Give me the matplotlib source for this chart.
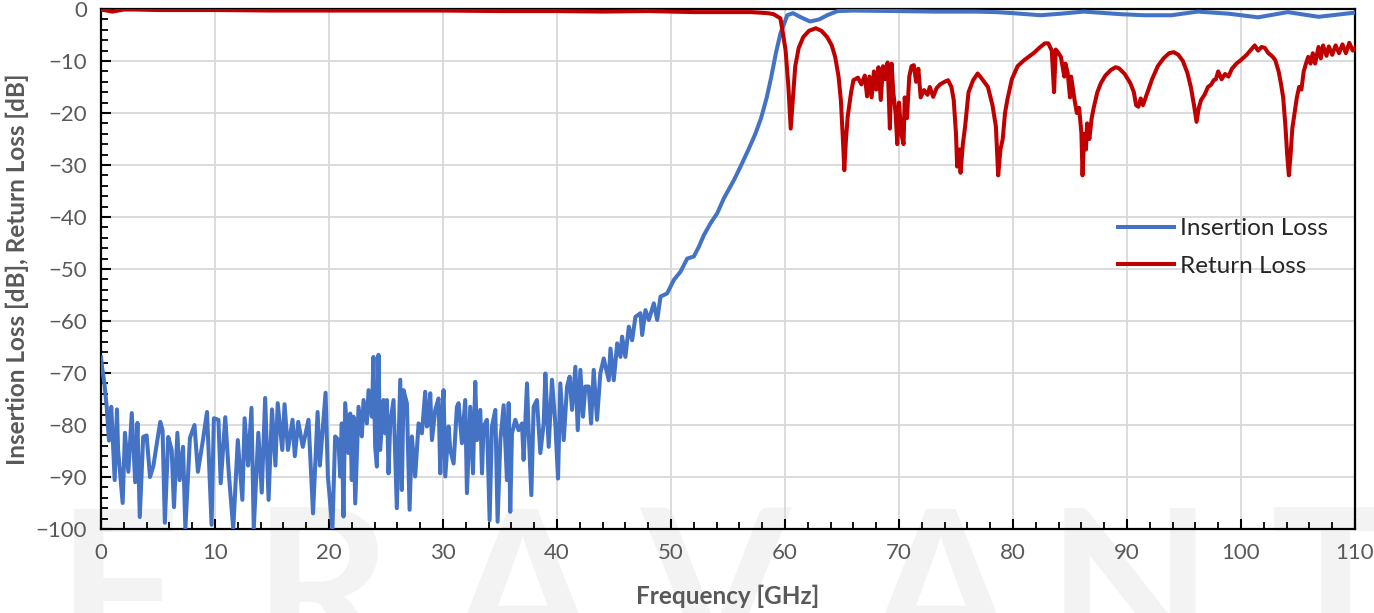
import matplotlib
matplotlib.use("Agg")
import matplotlib.pyplot as plt
from matplotlib.ticker import MultipleLocator

# ---------------- data ----------------
il_freq = [0.0, 0.1, 0.3, 0.5, 0.7, 0.9, 1.2, 1.4, 1.5, 1.9, 2.1, 2.4, 2.7, 3.0, 3.2, 3.4, 3.7, 4.0, 4.3, 4.6,
           4.9, 5.2, 5.4, 5.6, 5.9, 6.2, 6.4, 6.7, 6.9, 7.2, 7.4, 7.8, 8.2, 8.5, 8.9, 9.3, 9.7, 9.9, 10.3, 10.5,
           10.9, 11.2, 11.6, 12.0, 12.4, 12.6, 12.9, 13.2, 13.4, 13.8, 14.1, 14.4, 14.7, 15.0, 15.3, 15.5, 15.9,
           16.1, 16.4, 16.8, 17.0, 17.3, 17.7, 18.2, 18.6, 19.0, 19.2, 19.7, 19.9, 20.3,
           20.54, 20.83, 20.98, 21.12, 21.27, 21.42, 21.71, 21.86, 22.0, 22.15, 22.3, 22.59, 22.88, 23.03, 23.32,
           23.47, 23.76, 23.9, 24.05, 24.2, 24.34, 24.49, 24.78, 24.93, 25.08, 25.22, 25.37, 25.66, 25.95, 26.25,
           26.39, 26.54, 26.83, 27.07, 27.27, 27.56, 27.86, 28.15, 28.44, 28.59, 28.73, 28.88, 29.03, 29.32, 29.61,
           29.76, 29.9, 30.05, 30.2, 30.49, 30.64, 30.93, 31.22, 31.37, 31.66, 31.95, 32.1, 32.39, 32.63, 32.83,
           32.98, 33.27, 33.42, 33.56, 33.85, 34.09, 34.29, 34.59, 34.79, 35.03, 35.32, 35.61, 35.76, 35.9, 36.05,
           36.34, 36.63, 36.93, 37.07, 37.37, 37.51, 37.75, 37.95, 38.24, 38.54, 38.83, 38.98, 39.27, 39.56, 39.85,
           40.09, 40.29, 40.59, 40.88, 41.11, 41.32, 41.61, 41.82, 42.05, 42.28, 42.49, 42.78, 42.99, 43.22, 43.51,
           43.8, 44.1, 44.54, 44.69, 44.98, 45.28, 45.57, 45.71, 46.0, 46.3, 46.59, 46.88, 47.32, 47.47, 47.76,
           48.06, 48.49, 48.79, 49.08, 49.66, 50.25, 50.84, 51.42, 52.0, 52.45, 52.88, 53.47, 54.05, 54.64, 55.52,
           56.1, 56.8, 57.4, 57.9, 58.4, 58.8, 59.2, 59.6, 60.2, 60.7, 61.4, 62.2, 63.0, 63.7, 64.6, 66.0, 70.0,
           73.0, 76.6, 78.5, 80.0, 82.4, 84.2, 86.2, 89.5, 91.5, 93.9, 96.2, 98.9, 101.5, 104.1, 106.8, 110.0]
il_db = [-67, -69, -72, -76.5, -83, -76.5, -90.6, -77, -84.8, -95, -81.5, -89, -77.7, -91, -79.6, -97.7, -82.3, -82,
         -90, -87.8, -83.5, -79.4, -81, -98.8, -82.3, -84.8, -95.8, -81.5, -90.6, -84.2, -100, -82.5, -80, -89,
         -83.5, -77.5, -99.2, -78.7, -79, -91.2, -78.5, -89, -100, -82.9, -94.4, -78.7, -87.8, -76.7, -100, -81.5,
         -93, -74.8, -94.4, -77, -87.8, -75.8, -84.8, -76, -84.8, -79, -86, -79.4, -84.2, -79, -97, -77.5, -87.8,
         -73.8, -89.8, -100,
         -82.2, -82.9, -89.9, -79.7, -97.6, -75.8, -85.4, -77.8, -90.6, -78.4, -95.1, -76.5, -82.2, -75.2, -79.7,
         -73.3, -78.4, -66.9, -84.2, -88.0, -66.5, -84.8, -75.2, -81.6, -75.2, -89.3, -79.7, -75.2, -96.0, -71.3,
         -92.5, -73.3, -75.8, -96.3, -82.2, -89.9, -79.7, -81.6, -73.6, -80.3, -79.7, -73.9, -82.9, -77.1, -74.9,
         -89.3, -79.7, -73.3, -89.9, -80.3, -84.8, -87.4, -76.5, -75.8, -83.5, -75.2, -93.1, -76.5, -89.3, -71.7,
         -82.9, -77.1, -89.3, -80.3, -79.0, -98.3, -80.3, -77.1, -98.6, -82.9, -76.2, -90.6, -75.8, -96.7, -81.6,
         -79.0, -81.0, -79.7, -86.7, -72.0, -81.0, -93.5, -76.5, -75.2, -85.4, -79.7, -70.1, -84.2, -71.3, -79.7,
         -90.3, -72.0, -82.9, -72.6, -70.7, -77.1, -68.8, -81.0, -69.4, -78.4, -72.6, -72.6, -79.7, -69.4, -79.0,
         -70.1, -67.2, -71.4, -65.3, -71.4, -64.3, -66.9, -63.0, -66.9, -61.1, -63.7, -59.2, -58.5, -62.7, -57.9,
         -59.8, -56.6, -59.8, -55.3, -54.7, -52.1, -50.5, -48.0, -47.6, -45.7, -43.5, -41.2, -39.3, -36.4, -32.9,
         -30.3, -27.0, -24.0, -21.0, -17.0, -13.0, -8.5, -4.7, -1.2, -0.8, -1.6, -2.4, -2.0, -1.2, -0.4, -0.3, -0.4,
         -0.5, -0.5, -0.6, -0.8, -1.2, -0.9, -0.5, -1.0, -1.2, -1.2, -0.5, -0.9, -1.6, -0.6, -1.5, -0.7]

rl_freq = [0.0, 0.5, 1.0, 1.5, 2.0, 3.0, 5.0, 10.0, 15.0, 20.0, 25.0, 30.0, 35.0, 40.0, 44.0, 48.0, 52.0, 55.0,
           57.0, 58.5, 59.0, 59.6, 60.05, 60.3, 60.5, 60.7, 60.9, 61.2, 61.6, 62.1, 62.7, 63.2, 63.7, 64.1, 64.4,
           64.7, 64.9, 65.1, 65.2, 65.35, 65.5, 65.8, 66.0, 66.4, 66.7, 67.0, 67.2, 67.4, 67.6, 67.8, 68.0, 68.2,
           68.4, 68.6, 68.8, 69.0, 69.2, 69.35, 69.5, 69.7, 69.85, 70.0, 70.2, 70.4, 70.5, 70.7, 70.9, 71.1, 71.3,
           71.5, 71.7, 71.9, 72.2, 72.5, 72.7, 73.0, 73.3, 73.6, 74.0, 74.3, 74.6, 74.8, 75.0, 75.1, 75.3, 75.4,
           75.6, 75.8, 76.1, 76.5, 76.9, 77.3, 77.8, 78.2, 78.5, 78.7, 78.9, 79.1, 79.3, 79.5, 79.9, 80.4, 81.0,
           81.8, 82.4, 82.8, 83.1, 83.4, 83.6, 83.75, 84.0, 84.2, 84.5, 84.6, 84.8, 85.0, 85.1, 85.4, 85.6, 85.8,
           86.0, 86.1, 86.25, 86.4, 86.5, 86.7, 86.9, 87.1, 87.4, 87.7, 88.1, 88.6, 89.0, 89.3, 89.8, 90.3, 90.6,
           90.8, 91.0, 91.2, 91.4, 91.8, 92.2, 92.7, 93.2, 93.7, 94.1, 94.5, 94.9, 95.3, 95.6, 95.9, 96.1, 96.3,
           96.5, 96.8, 97.1, 97.4, 97.6, 97.8, 98.0, 98.3, 98.6, 98.9, 99.2, 99.6, 100.0, 100.5, 101.0, 101.2,
           101.5, 101.8, 102.1, 102.4, 102.7, 103.0, 103.3, 103.5, 103.7, 103.9, 104.05, 104.2, 104.35, 104.5,
           104.7, 104.9, 105.1, 105.3, 105.5, 105.7, 105.9, 106.1, 106.3, 106.5, 106.8, 107.0, 107.2, 107.5,
           107.7, 108.0, 108.3, 108.6, 108.9, 109.2, 109.5, 109.8, 110.0]
rl_db = [-0.1, -0.3, -0.5, -0.3, -0.1, -0.1, -0.2, -0.2, -0.3, -0.3, -0.3, -0.3, -0.4, -0.4, -0.5, -0.4, -0.6, -0.6,
         -0.6, -0.8, -1.0, -1.8, -7.9, -15, -23, -17, -11, -7.5, -5.4, -4.2, -3.7, -4.2, -5.4, -7, -9.2,
         -13, -17.5, -26, -31, -25, -20.7, -16, -13.7, -13.2, -14.5, -12.8, -16.8, -13.0, -17.0, -12.0, -15.5, -11.2,
         -17.5, -11.0, -13.5, -10.3, -23.0, -10.5, -16.0, -20, -26, -18, -24, -26, -17, -21, -13, -11, -10.8,
         -14, -11.5, -17, -15.6, -16.5, -15, -16.9, -15.2, -14.5, -14.0, -13.7, -15.0, -17.5, -24, -30.3, -27, -31.5,
         -26, -22.6, -16, -13.7, -12.4, -13.5, -15, -18.5, -22.6, -32, -27, -25, -20, -17.5, -13.5, -11, -9.8,
         -8.5, -7.3, -6.6, -6.6, -8, -16, -7.8, -8.5, -9.2, -13, -10.5, -12.3, -17, -13, -17.5, -20, -19,
         -23.9, -32, -24, -27, -22, -25, -21, -18.8, -16, -14.3, -12.8, -11.7, -11.2, -11.4, -12.5, -14.3, -16,
         -18.5, -18.8, -17.2, -18.5, -16, -13.5, -11, -9.5, -8.5, -8.3, -8.8, -10, -12.3, -15, -18.8, -21.7, -19,
         -17.5, -16.5, -15, -14.5, -13.7, -13.5, -12, -13.5, -12.5, -13, -11.5, -10.5, -9.8, -8.8, -7.5, -7.0,
         -8.0, -7.3, -7.5, -8.5, -9, -9.8, -12, -14.3, -17, -22.6, -28, -32, -28, -23,
         -20, -17, -15, -15.5, -12, -10.5, -9.2, -10.5, -8.5, -10.5, -7.3, -9.5, -7.0, -9.0,
         -7.2, -8.8, -7.0, -8.5, -6.8, -8.5, -6.5, -8.0, -7.5]

x_ticks = list(range(0, 111, 10))
y_ticks = list(range(-100, 1, 10))
series_labels = ["Insertion Loss", "Return Loss"]
watermark_letters = ["F", "R", "A", "V", "A", "N", "T"]

# ---------------- figure ----------------
W, H = 1374, 613
fig = plt.figure(figsize=(W / 100, H / 100), dpi=100)
fig.patch.set_facecolor("white")

# watermark (behind everything)
wm_x = [118, 322, 522, 715, 940, 1130, 1335]
for letter, xp in zip(watermark_letters, wm_x):
    fig.text(xp / W, 1 - 503 / H, letter, ha="center", va="top", fontsize=155,
             family="Lato", fontweight="bold", color="#f3f3f3", zorder=0)

ax = fig.add_axes([101 / W, 1 - 529 / H, (1355 - 101) / W, (529 - 9) / H])
ax.set_facecolor("none")
ax.set_zorder(2)

blue = "#4472C4"
red = "#C00000"
ax.plot(il_freq, il_db, color=blue, lw=2.9, label=series_labels[0], zorder=3, solid_joinstyle="round")
ax.plot(rl_freq, rl_db, color=red, lw=2.9, label=series_labels[1], zorder=4, solid_joinstyle="round")

ax.set_xlim(0, 110)
ax.set_ylim(-100, 0)
ax.set_xticks(x_ticks)
ax.set_yticks(y_ticks)
ax.xaxis.set_minor_locator(MultipleLocator(2))
ax.yaxis.set_minor_locator(MultipleLocator(2))
ax.grid(True, which="major", color="#d9d9d9", lw=1.3, zorder=1)
ax.set_axisbelow(True)

for s in ax.spines.values():
    s.set_color("black")
    s.set_linewidth(1.6)

ax.tick_params(which="major", direction="in", length=7, width=1.5, color="black",
               labelsize=16, labelcolor="#595959", pad=10)
ax.tick_params(which="minor", direction="in", length=5, width=1.3, color="black")
ax.tick_params(axis="y", which="both", right=False)
ax.tick_params(axis="x", which="both", top=False)
for lab in ax.get_xticklabels() + ax.get_yticklabels():
    lab.set_family("Lato")

ax.set_xlabel("Frequency [GHz]", fontsize=17.5, fontweight="bold", color="#595959", family="Lato", labelpad=16)
ax.set_ylabel("Insertion Loss [dB], Return Loss [dB]", fontsize=17.5, fontweight="bold", color="#595959",
              family="Lato", labelpad=5)

leg = ax.legend(loc="upper left", bbox_to_anchor=(1118 / W, 1 - 218 / H), bbox_transform=fig.transFigure,
                frameon=False, handlelength=2.3, handletextpad=0.25, labelspacing=0.68,
                borderpad=0, borderaxespad=0, prop={"family": "Lato", "size": 17.5})
for t in leg.get_texts():
    t.set_color("#262626")

fig.savefig("out.png", dpi=100)
